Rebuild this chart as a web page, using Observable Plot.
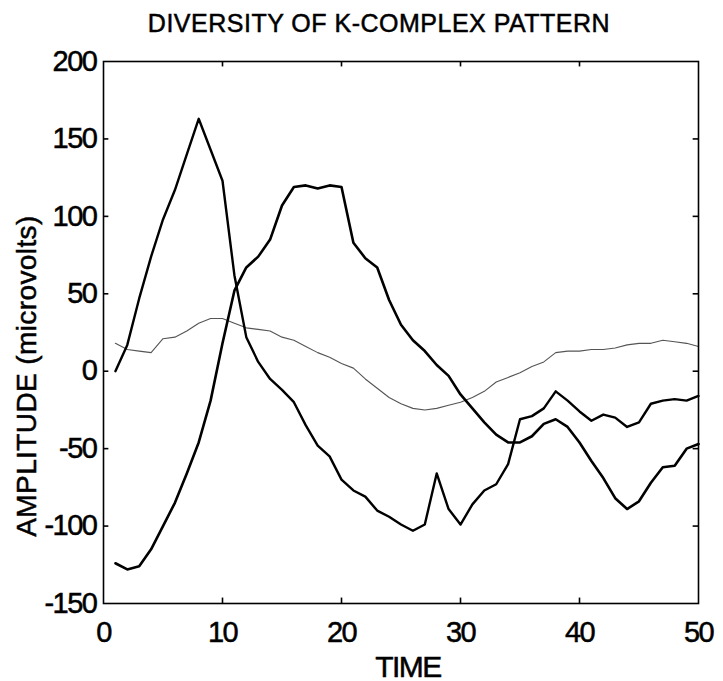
<!DOCTYPE html>
<html>
<head>
<meta charset="utf-8">
<script src="https://cdn.jsdelivr.net/npm/d3@7"></script>
<script src="https://cdn.jsdelivr.net/npm/@observablehq/plot@0.6"></script>
<style>
  body { margin: 0; background: #fff; }
  #wrap { position: relative; width: 723px; height: 681px; overflow: hidden;
          font-family: "Liberation Sans", Arial, sans-serif; color: #000; }
  #chart { position: absolute; left: 0; top: 0; }
  #chart svg text { stroke: #000; stroke-width: 0.5px; }
  .lbl { position: absolute; white-space: nowrap; -webkit-text-stroke: 0.5px #000; }
  #title { left: 379px; top: 10.5px; font-size: 25px; line-height: 25px; letter-spacing: 0.5px; transform: translateX(-50%); }
  #xlabel { left: 408px; top: 651.5px; font-size: 30px; line-height: 30px; letter-spacing: -1.5px; transform: translateX(-50%); }
  #ylabel { left: 27px; top: 376px; font-size: 28px; line-height: 28px; letter-spacing: 0.4px; transform: translate(-50%, -50%) rotate(-90deg); }
</style>
</head>
<body>
<div id="wrap">
  <div id="chart"></div>
  <div class="lbl" id="title"></div>
  <div class="lbl" id="xlabel"></div>
  <div class="lbl" id="ylabel"></div>
</div>
<script>
// ---- text ----
const titleText = "DIVERSITY OF K-COMPLEX PATTERN";
const xLabelText = "TIME";
const yLabelText = "AMPLITUDE (microvolts)";

// ---- ticks ----
const xTicks = [0, 10, 20, 30, 40, 50];
const yTicks = [-150, -100, -50, 0, 50, 100, 150, 200];

// ---- sample index (1..50) ----
const time = Array.from({length: 50}, (_, i) => i + 1);

// ---- series (amplitude, microvolts) ----
const seriesA = [0, 17, 47, 74, 98, 117, 140, 163, 143, 123,
                 62, 22, 6, -5, -12, -20, -35, -48, -55, -70,
                 -77, -81, -90, -94, -99, -103, -99, -66, -89, -99,
                 -86, -77, -73, -60, -31, -29, -24, -13, -19, -26,
                 -32, -28, -30, -36, -33, -21, -19, -18, -19, -16];
const seriesB = [-124, -128, -126, -115, -100, -85, -66, -46, -19, 18,
                 52, 67, 74, 85, 107, 119, 120, 118, 120, 119,
                 83, 73, 67, 46, 30, 20, 13, 4, -3, -15,
                 -24, -33, -41, -46, -46, -42, -34, -31, -36, -46,
                 -58, -69, -82, -89, -84, -72, -62, -61, -50, -47];
const seriesC = [18, 14, 13, 12, 21, 22, 26, 31, 34, 34,
                 31, 28, 27, 26, 22, 20, 16, 12, 9, 5,
                 2, -5, -11, -17, -21, -24, -25, -24, -22, -20,
                 -17, -13, -7, -4, -1, 3, 6, 12, 13, 13,
                 14, 14, 15, 17, 18, 18, 20, 19, 18, 16];

const rows = time.map((t, i) => ({t, a: seriesA[i], b: seriesB[i], c: seriesC[i]}));

document.getElementById("title").textContent = titleText;
document.getElementById("xlabel").textContent = xLabelText;
document.getElementById("ylabel").textContent = yLabelText;

const plot = Plot.plot({
  width: 723,
  height: 681,
  marginLeft: 103,
  marginRight: 25,
  marginTop: 61,
  marginBottom: 78,
  style: {fontFamily: "Liberation Sans, Arial, sans-serif", fontSize: "29px", color: "#000", background: "#fff", overflow: "visible"},
  x: {domain: [0, 50]},
  y: {domain: [-150, 200]},
  marks: [
    Plot.axisX({ticks: xTicks, tickSize: 0, tickPadding: 18, tickFormat: d => String(d), label: null, fontSize: 29}),
    Plot.axisY({ticks: yTicks, tickSize: 0, tickPadding: 7, tickFormat: d => String(d), label: null, fontSize: 29}),
    // inward tick marks on all four sides
    Plot.ruleX(xTicks.slice(1, -1), {x: d => d, y1: -150, y2: -146.5, stroke: "#000", strokeWidth: 1.6}),
    Plot.ruleX(xTicks.slice(1, -1), {x: d => d, y1: 200, y2: 196.5, stroke: "#000", strokeWidth: 1.6}),
    Plot.ruleY(yTicks.slice(1, -1), {y: d => d, x1: 0, x2: 0.45, stroke: "#000", strokeWidth: 1.6}),
    Plot.ruleY(yTicks.slice(1, -1), {y: d => d, x1: 50, x2: 49.55, stroke: "#000", strokeWidth: 1.6}),
    Plot.line(rows, {x: "t", y: "c", stroke: "#555", strokeWidth: 1.1}),
    Plot.line(rows, {x: "t", y: "a", stroke: "#000", strokeWidth: 2.4}),
    Plot.line(rows, {x: "t", y: "b", stroke: "#000", strokeWidth: 2.6}),
    Plot.frame({stroke: "#000", strokeWidth: 1.6})
  ]
});
plot.style.letterSpacing = "-1.5px";
document.getElementById("chart").appendChild(plot);
</script>
</body>
</html>
